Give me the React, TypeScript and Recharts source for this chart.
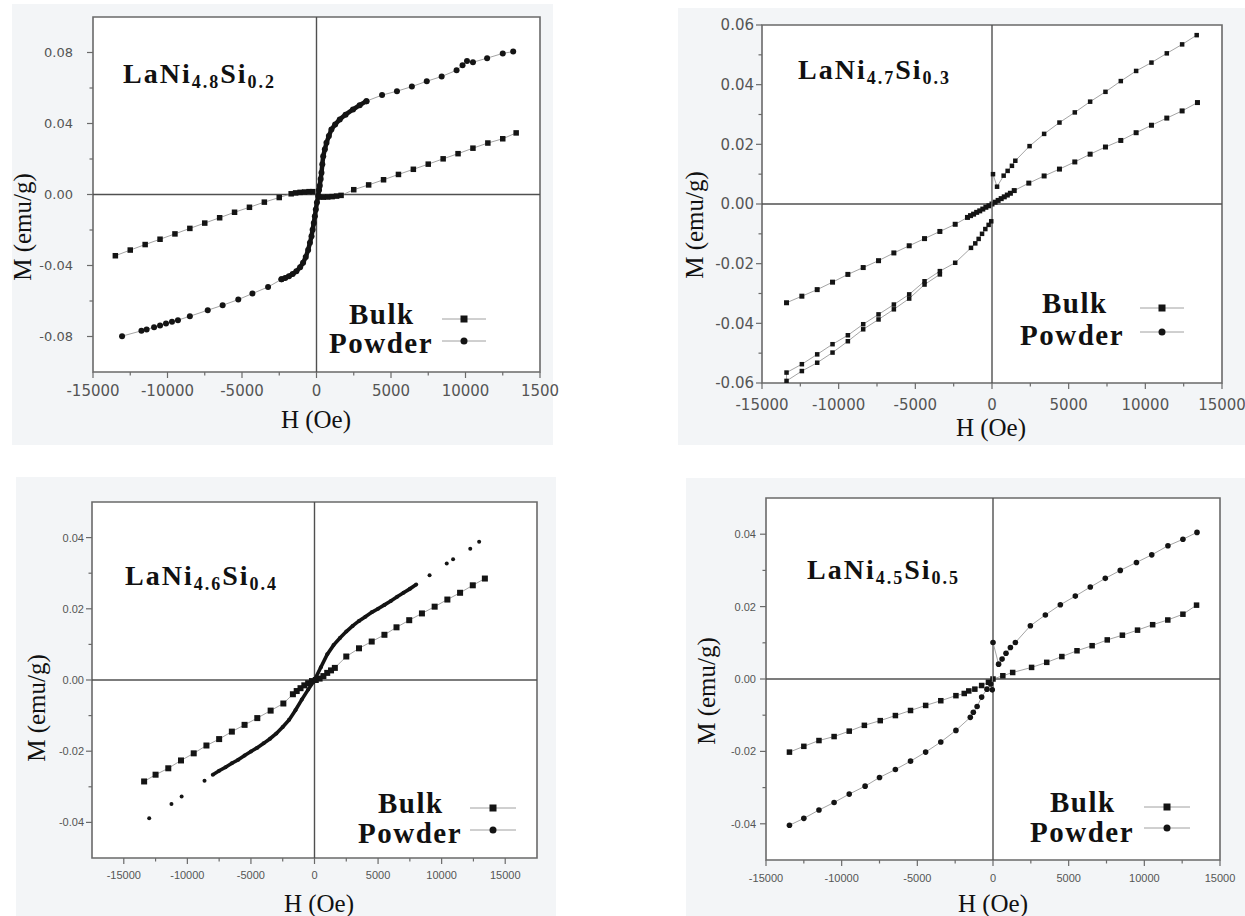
import React from "react";
import { ScatterChart, Scatter, XAxis, YAxis, ReferenceArea, ReferenceLine } from "recharts";

type Pt = [number, number];

// LaNi4.8Si0.2  (H in Oe, M in emu/g)
const bulk48: Pt[] = [
  [-13500, -0.0345], [-12500, -0.0313], [-11500, -0.0282], [-10500, -0.0252], [-9500, -0.0222], [-8500, -0.0191],
  [-7500, -0.0161], [-6500, -0.0131], [-5500, -0.01], [-4500, -0.0072], [-3500, -0.0043], [-2500, -0.0017],
  [-1700, 0.0004], [-1400, 0.0009], [-1100, 0.0012], [-800, 0.0014], [-500, 0.0016], [-250, 0.0016],
  [150, -0.0014], [450, -0.0015], [750, -0.0014], [1050, -0.0012], [1350, -0.0009], [1650, -0.0005],
  [2500, 0.0027], [3500, 0.0054], [4500, 0.0083], [5500, 0.0113], [6500, 0.0142], [7500, 0.0171],
  [8500, 0.0201], [9500, 0.023], [10500, 0.0261], [11500, 0.029], [12500, 0.0314], [13400, 0.0347],
];
const powder48Low: Pt[] = [
  [-13050, -0.0798], [-11750, -0.0768], [-11400, -0.076], [-10900, -0.0748], [-10500, -0.0738], [-10100, -0.0727],
  [-9700, -0.0717], [-9300, -0.0708], [-8500, -0.0686], [-7300, -0.0652], [-6300, -0.0624], [-5250, -0.0592],
  [-4300, -0.0558], [-3250, -0.0521], [-2350, -0.0478],
];
const powder48Core: Pt[] = [
  [-2350, -0.0478], [-2100, -0.047], [-1850, -0.046], [-1600, -0.0448],
  [-1350, -0.0432], [-1100, -0.041], [-900, -0.0385], [-720, -0.0352], [-560, -0.0312], [-440, -0.0272],
  [-335, -0.0235], [-260, -0.0198], [-180, -0.016], [-110, -0.0122], [-45, -0.0085], [30, -0.0045],
  [110, -0.0009], [170, 0.0025], [220, 0.005], [280, 0.0088], [335, 0.0122], [390, 0.017], [450, 0.0216],
  [560, 0.0255], [670, 0.0291], [830, 0.033], [1000, 0.0366], [1250, 0.0395], [1560, 0.0423], [1950, 0.045],
  [2450, 0.0479], [2900, 0.0503], [3350, 0.0526],
];
const powder48High: Pt[] = [
  [3350, 0.0526], [4400, 0.056], [5400, 0.0582], [6400, 0.0608], [7400, 0.0638],
  [8400, 0.0665], [9400, 0.07], [9800, 0.0728], [10100, 0.0752], [10500, 0.0745], [11450, 0.0768],
  [12500, 0.0795], [13200, 0.0805],
];

// LaNi4.7Si0.3
const bulk47: Pt[] = [
  [-13400, -0.0331], [-12400, -0.0309], [-11400, -0.0287], [-10400, -0.0262], [-9400, -0.0236], [-8400, -0.0213],
  [-7400, -0.019], [-6400, -0.0164], [-5400, -0.014], [-4400, -0.0116], [-3400, -0.0092], [-2400, -0.0068],
  [-1600, -0.0045], [-1400, -0.0039], [-1200, -0.0034], [-1000, -0.0028], [-800, -0.0023], [-600, -0.0017],
  [-400, -0.0011], [-200, -0.0006], [0, 0], [200, 0.0006], [400, 0.0012], [600, 0.0018], [800, 0.0024],
  [1000, 0.003], [1200, 0.0036], [1450, 0.0045], [2400, 0.007], [3400, 0.0094], [4400, 0.0117], [5400, 0.0141],
  [6400, 0.0167], [7400, 0.0191], [8400, 0.0213], [9400, 0.0239], [10400, 0.0264], [11400, 0.0288],
  [12400, 0.0312], [13400, 0.034],
];
const powder47: Pt[] = [
  [13350, 0.0566], [12400, 0.0535], [11400, 0.0505], [10400, 0.0474], [9400, 0.0446], [8400, 0.0412],
  [7400, 0.0376], [6400, 0.0343], [5400, 0.0307], [4400, 0.0273], [3400, 0.0235], [2450, 0.0194],
  [1520, 0.0145], [1300, 0.0128], [1020, 0.0111], [760, 0.0095], [330, 0.0058], [65, 0.01],
  [-50, -0.0058], [-220, -0.007], [-435, -0.0084], [-650, -0.01], [-870, -0.0117], [-1090, -0.0132],
  [-1370, -0.0147], [-2400, -0.0197], [-3400, -0.0225], [-4400, -0.0259], [-5400, -0.0303], [-6400, -0.0337],
  [-7400, -0.037], [-8400, -0.0403], [-9400, -0.044], [-10400, -0.047], [-11400, -0.0504], [-12400, -0.0537],
  [-13400, -0.0565], [-13400, -0.0593], [-12400, -0.056], [-11400, -0.0532], [-10400, -0.0498], [-9400, -0.046],
  [-8400, -0.042], [-7400, -0.0387], [-6400, -0.0353], [-5400, -0.0317], [-4400, -0.027], [-3400, -0.0236],
];

// LaNi4.6Si0.4
const bulk46: Pt[] = [
  [-13400, -0.0285], [-12500, -0.0266], [-11500, -0.0248], [-10500, -0.0226], [-9500, -0.0206], [-8500, -0.0184],
  [-7500, -0.0166], [-6500, -0.0145], [-5500, -0.0126], [-4500, -0.0107], [-3450, -0.0086], [-2450, -0.0066],
  [-1700, -0.004], [-1400, -0.0031], [-1100, -0.0023], [-800, -0.0015], [-500, -0.0009], [-200, -0.0003],
  [100, 0], [400, 0.0004], [700, 0.0011], [1000, 0.002], [1300, 0.0027], [1600, 0.0034],
  [2500, 0.0066], [3500, 0.0089], [4500, 0.0108], [5500, 0.0127], [6450, 0.0148], [7450, 0.0168],
  [8450, 0.0187], [9450, 0.0206], [10450, 0.0226], [11450, 0.0245], [12450, 0.0266], [13400, 0.0285],
];
const powder46Dense: Pt[] = [
  [-8000, -0.0266], [-7500, -0.0255], [-7000, -0.0245], [-6500, -0.0234], [-6000, -0.0224], [-5500, -0.0212],
  [-5000, -0.0201], [-4500, -0.019], [-4000, -0.0178], [-3500, -0.0165], [-3000, -0.015], [-2500, -0.0132],
  [-2000, -0.0112], [-1500, -0.0085], [-1000, -0.0055], [-500, -0.0027], [0, 0], [500, 0.0036], [1000, 0.0072],
  [1500, 0.0098], [2000, 0.0118], [2500, 0.0136], [3000, 0.0152], [3500, 0.0166], [4000, 0.0178], [4500, 0.019],
  [5000, 0.02], [5500, 0.0211], [6000, 0.0222], [6500, 0.0234], [7000, 0.0245], [7500, 0.0256], [8000, 0.0268],
];
const powder46Sparse: Pt[] = [
  [-13000, -0.0388], [-11250, -0.0348], [-10450, -0.0327], [-8650, -0.0283],
  [9050, 0.0294], [10400, 0.0327], [10900, 0.0339], [12250, 0.0369], [12950, 0.0388],
];

// LaNi4.5Si0.5
const bulk45: Pt[] = [
  [-13450, -0.0202], [-12500, -0.0186], [-11500, -0.017], [-10500, -0.0159], [-9500, -0.0144], [-8500, -0.0128],
  [-7450, -0.0115], [-6450, -0.0101], [-5450, -0.0087], [-4450, -0.0073], [-3450, -0.006], [-2450, -0.0046],
  [-1900, -0.004], [-1600, -0.0033], [-1200, -0.0028], [-750, -0.0018], [-300, -0.0009], [0, 0],
  [650, 0.0009], [1300, 0.0018], [2550, 0.0032], [3550, 0.0046], [4550, 0.0062], [5550, 0.0078],
  [6550, 0.0092], [7550, 0.0108], [8550, 0.0121], [9550, 0.0135], [10550, 0.015], [11550, 0.0163],
  [12550, 0.0179], [13450, 0.0204],
];
const powder45: Pt[] = [
  [-13450, -0.0404], [-12500, -0.0385], [-11500, -0.0362], [-10500, -0.0341], [-9500, -0.0318], [-8450, -0.0296],
  [-7500, -0.0272], [-6450, -0.025], [-5450, -0.0227], [-4450, -0.0202], [-3450, -0.0174], [-2450, -0.0142],
  [-1500, -0.0106], [-1300, -0.0092], [-1050, -0.0076], [-750, -0.005], [-400, -0.0028], [-150, -0.0014],
  [-50, -0.003], [0, 0.0101], [370, 0.0041], [600, 0.0055], [860, 0.0071], [1150, 0.0087], [1480, 0.0101],
  [2470, 0.0147], [3460, 0.0177], [4450, 0.0205], [5440, 0.0229], [6430, 0.0254], [7420, 0.0278],
  [8410, 0.03], [9480, 0.0322], [10490, 0.0343], [11560, 0.0368], [12550, 0.0386], [13480, 0.0405],
];

// axis ticks
const hMajor = [-15000, -10000, -5000, 0, 5000, 10000, 15000];
const hMinor = [-12500, -7500, -2500, 2500, 7500, 12500];
const hLabelsCut = ["-15000", "-10000", "-5000", "0", "5000", "10000", "1500"];
const hLabels = ["-15000", "-10000", "-5000", "0", "5000", "10000", "15000"];
const mMajor48 = [-0.08, -0.04, 0, 0.04, 0.08];
const mLabels48 = ["-0.08", "-0.04", "0.00", "0.04", "0.08"];
const mMinor48 = [-0.06, -0.02, 0.02, 0.06];
const mMajor47 = [-0.06, -0.04, -0.02, 0, 0.02, 0.04, 0.06];
const mLabels47 = ["-0.06", "-0.04", "-0.02", "0.00", "0.02", "0.04", "0.06"];
const mMinor47 = [-0.05, -0.03, -0.01, 0.01, 0.03, 0.05];
const mMajor4x = [-0.04, -0.02, 0, 0.02, 0.04];
const mLabels4x = ["-0.04", "-0.02", "0.00", "0.02", "0.04"];
const mMinor4x = [-0.03, -0.01, 0.01, 0.03];

const SERIF = "'Liberation Serif', 'Times New Roman', serif";
const AXIS = "#6a6a6a";
const INK = "#141414";

const XTick = (p: any) => {
  const i = p.majors.indexOf(p.payload.value);
  const len = i >= 0 ? 6 : 3.5;
  return (
    <g>
      <line x1={p.x} x2={p.x} y1={p.y} y2={p.y + len} stroke={AXIS} strokeWidth={1.2} />
      {i >= 0 && (
        <text x={p.x} y={p.y + p.dy} textAnchor="middle" fontFamily={p.font} fontSize={p.size} fill="#555555">
          {p.labels[i]}
        </text>
      )}
    </g>
  );
};

const YTick = (p: any) => {
  const i = p.majors.indexOf(p.payload.value);
  const len = i >= 0 ? 6 : 3.5;
  return (
    <g>
      <line x1={p.x - len} x2={p.x} y1={p.y} y2={p.y} stroke={AXIS} strokeWidth={1.2} />
      {i >= 0 && (
        <text x={p.x - p.gap} y={p.y} dy="0.36em" textAnchor="end" fontFamily={p.font} fontSize={p.size} fill="#555555">
          {p.labels[i]}
        </text>
      )}
    </g>
  );
};

const square = (s: number) => (p: any) => (
  <rect x={p.cx - s / 2} y={p.cy - s / 2} width={s} height={s} fill={INK} />
);
const dot = (r: number) => (p: any) => <circle cx={p.cx} cy={p.cy} r={r} fill={INK} />;

type Series = { data: Pt[]; shape: (p: any) => React.ReactElement; line: any };

type PanelProps = {
  frame: [number, number, number, number];
  xDomain: [number, number];
  yDomain: [number, number];
  xMajor: number[];
  xLabels: string[];
  xMinor: number[];
  yMajor: number[];
  yLabels: string[];
  yMinor: number[];
  xFont: [string, number, number];
  yFont: [string, number, number];
  series: Series[];
};

const thin = { stroke: "#9a9a9a", strokeWidth: 0.9 };
const thick = { stroke: INK, strokeWidth: 4.5 };

function Panel(props: PanelProps) {
  const [x0, y0, x1, y1] = props.frame;
  const yw = 110;
  const w = x1 - x0 + yw + 28;
  const h = y1 - y0 + 10 + 40;
  const xTicks = [...props.xMajor, ...props.xMinor].sort((a, b) => a - b);
  const yTicks = [...props.yMajor, ...props.yMinor].sort((a, b) => a - b);
  return (
    <div style={{ position: "absolute", left: x0 - yw, top: y0 - 10 }}>
      <ScatterChart width={w} height={h} margin={{ top: 10, right: 28, bottom: 0, left: 0 }}>
        <XAxis
          type="number"
          dataKey="h"
          domain={props.xDomain}
          ticks={xTicks}
          interval={0}
          height={40}
          axisLine={false}
          tickLine={false}
          tickSize={0}
          tickMargin={0}
          allowDataOverflow
          tick={<XTick majors={props.xMajor} labels={props.xLabels} font={props.xFont[0]} size={props.xFont[1]} dy={props.xFont[2]} />}
        />
        <YAxis
          type="number"
          dataKey="m"
          domain={props.yDomain}
          ticks={yTicks}
          interval={0}
          width={yw}
          axisLine={false}
          tickLine={false}
          tickSize={0}
          tickMargin={0}
          allowDataOverflow
          tick={<YTick majors={props.yMajor} labels={props.yLabels} font={props.yFont[0]} size={props.yFont[1]} gap={props.yFont[2]} />}
        />
        <ReferenceArea
          x1={props.xDomain[0]}
          x2={props.xDomain[1]}
          y1={props.yDomain[0]}
          y2={props.yDomain[1]}
          fill="#ffffff"
          fillOpacity={1}
          stroke={AXIS}
          strokeWidth={1.6}
        />
        <ReferenceLine x={0} stroke="#505050" strokeWidth={1.4} />
        <ReferenceLine y={0} stroke="#505050" strokeWidth={1.4} />
        {props.series.map((s, i) => (
          <Scatter
            key={i}
            data={s.data.map(([hv, mv]) => ({ h: hv, m: mv }))}
            shape={s.shape}
            line={s.line}
            isAnimationActive={false}
          />
        ))}
      </ScatterChart>
    </div>
  );
}

type Note = {
  title: string[];
  titleAt: [number, number];
  legend: [number, number, number, number, number, number, number, number];
  hAt: [number, number];
  mAt: [number, number];
};

// title parts, text anchors and legend geometry (page px)
const notes: Note[] = [
  { title: ["LaNi", "4.8", "Si", "0.2"], titleAt: [123, 83], legend: [349, 324, 329, 353, 442, 486, 319, 341], hAt: [316, 428], mAt: [31, 227] },
  { title: ["LaNi", "4.7", "Si", "0.3"], titleAt: [798, 79], legend: [1042, 313, 1020, 345, 1140, 1184, 308, 332], hAt: [991, 436], mAt: [703, 225] },
  { title: ["LaNi", "4.6", "Si", "0.4"], titleAt: [125, 585], legend: [378, 813, 358, 843, 470, 516, 808, 830], hAt: [319, 912], mAt: [45, 708] },
  { title: ["LaNi", "4.5", "Si", "0.5"], titleAt: [807, 579], legend: [1050, 812, 1030, 842, 1144, 1190, 807, 828], hAt: [993, 912], mAt: [715, 691] },
];

const boxes: [number, number, number, number][] = [
  [12, 4, 553, 445],
  [678, 8, 1245, 445],
  [16, 477, 556, 916],
  [686, 478, 1245, 916],
];

export default function App() {
  const sansA: [string, number, number] = ["'DejaVu Sans', sans-serif", 15, 24];
  return (
    <div style={{ position: "absolute", left: 0, top: 0, width: 1245, height: 916, overflow: "hidden", background: "#fff" }}>
      {boxes.map(([a, b, c, d], i) => (
        <div key={i} style={{ position: "absolute", left: a, top: b, width: c - a, height: d - b, background: "#f3f5f7" }} />
      ))}
      <Panel
        frame={[93, 17, 540, 372]}
        xDomain={[-15000, 15000]}
        yDomain={[-0.1, 0.1]}
        xMajor={hMajor}
        xLabels={hLabelsCut}
        xMinor={hMinor}
        yMajor={mMajor48}
        yLabels={mLabels48}
        yMinor={mMinor48}
        xFont={sansA}
        yFont={["'DejaVu Sans', sans-serif", 13, 20]}
        series={[
          { data: bulk48, shape: square(5.5), line: thin },
          { data: powder48Low, shape: dot(3), line: thin },
          { data: powder48Core, shape: dot(3), line: thick },
          { data: powder48High, shape: dot(3), line: thin },
        ]}
      />
      <Panel
        frame={[762, 25, 1222, 383]}
        xDomain={[-15000, 15000]}
        yDomain={[-0.06, 0.06]}
        xMajor={hMajor}
        xLabels={hLabels}
        xMinor={hMinor}
        yMajor={mMajor47}
        yLabels={mLabels47}
        yMinor={mMinor47}
        xFont={["'DejaVu Sans', sans-serif", 15, 27]}
        yFont={["'DejaVu Sans', sans-serif", 15, 8]}
        series={[
          { data: bulk47, shape: square(5), line: thin },
          { data: powder47, shape: square(4.5), line: thin },
        ]}
      />
      <Panel
        frame={[92, 502, 537, 858]}
        xDomain={[-17500, 17500]}
        yDomain={[-0.05, 0.05]}
        xMajor={hMajor}
        xLabels={hLabels}
        xMinor={hMinor}
        yMajor={mMajor4x}
        yLabels={mLabels4x}
        yMinor={mMinor4x}
        xFont={["'Liberation Sans', Arial, sans-serif", 11, 21]}
        yFont={["'Liberation Sans', Arial, sans-serif", 11, 8]}
        series={[
          { data: bulk46, shape: square(6), line: thin },
          { data: powder46Dense, shape: dot(2), line: { stroke: INK, strokeWidth: 3.6 } },
          { data: powder46Sparse, shape: dot(2), line: false },
        ]}
      />
      <Panel
        frame={[766, 498, 1220, 860]}
        xDomain={[-15000, 15000]}
        yDomain={[-0.05, 0.05]}
        xMajor={hMajor}
        xLabels={hLabels}
        xMinor={hMinor}
        yMajor={mMajor4x}
        yLabels={mLabels4x}
        yMinor={mMinor4x}
        xFont={["'Liberation Sans', Arial, sans-serif", 11, 22]}
        yFont={["'Liberation Sans', Arial, sans-serif", 11, 10]}
        series={[
          { data: bulk45, shape: square(5.5), line: thin },
          { data: powder45, shape: dot(2.8), line: thin },
        ]}
      />
      <svg width={1245} height={916} style={{ position: "absolute", left: 0, top: 0, pointerEvents: "none" }}>
        {notes.map((n, i) => {
          const [bx, by, px, py, lx1, lx2, my1, my2] = n.legend;
          const mx = (lx1 + lx2) / 2;
          return (
            <g key={i} fill="#111">
              <text x={n.titleAt[0]} y={n.titleAt[1]} fontFamily={SERIF} fontWeight="bold" fontSize={28} letterSpacing={2}>
                {n.title[0]}
                <tspan fontSize={18} dy={5}>{n.title[1]}</tspan>
                <tspan dy={-5}>{n.title[2]}</tspan>
                <tspan fontSize={18} dy={5}>{n.title[3]}</tspan>
              </text>
              <text x={bx} y={by} fontFamily={SERIF} fontWeight="bold" fontSize={29} letterSpacing={1.5}>Bulk</text>
              <text x={px} y={py} fontFamily={SERIF} fontWeight="bold" fontSize={29} letterSpacing={1.5}>Powder</text>
              <line x1={lx1} x2={lx2} y1={my1} y2={my1} stroke="#a0a0a0" strokeWidth={1} />
              <rect x={mx - 3.5} y={my1 - 3.5} width={7} height={7} fill={INK} />
              <line x1={lx1} x2={lx2} y1={my2} y2={my2} stroke="#a0a0a0" strokeWidth={1} />
              <circle cx={mx} cy={my2} r={3.5} fill={INK} />
              <text x={n.hAt[0]} y={n.hAt[1]} textAnchor="middle" fontFamily={SERIF} fontSize={25}>H (Oe)</text>
              <text transform={`translate(${n.mAt[0]},${n.mAt[1]}) rotate(-90)`} textAnchor="middle" fontFamily={SERIF} fontSize={25}>
                M (emu/g)
              </text>
            </g>
          );
        })}
      </svg>
    </div>
  );
}
